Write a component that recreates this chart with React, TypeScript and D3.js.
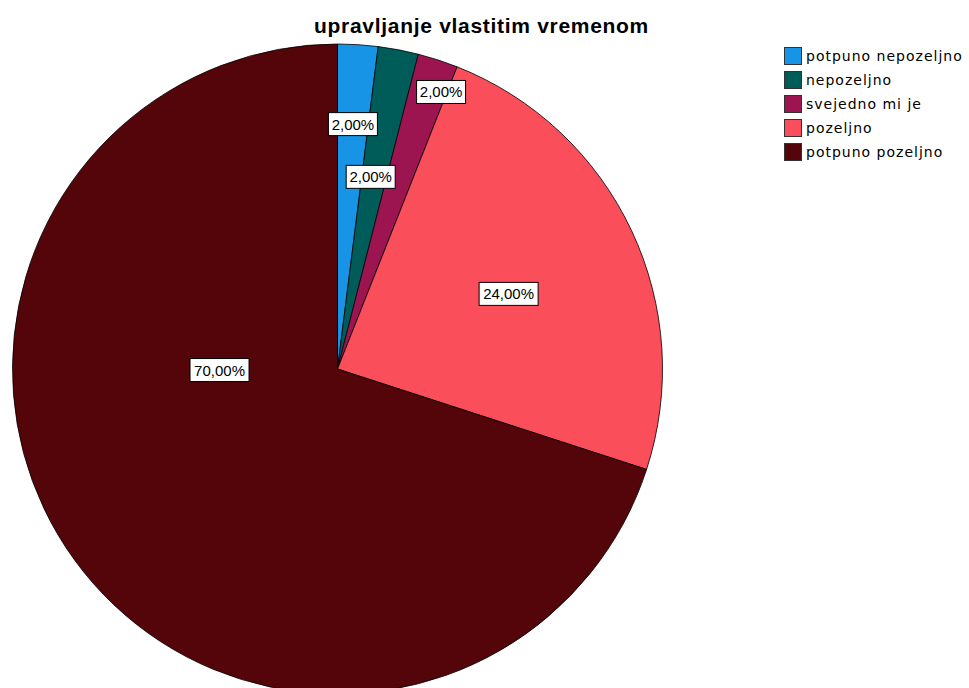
import React from "react";
import * as d3 from "d3";

const categories = ["potpuno nepozeljno", "nepozeljno", "svejedno mi je", "pozeljno", "potpuno pozeljno"];
const values = [2, 2, 2, 24, 70];
const colors = ["#1794e6", "#005c58", "#9c1551", "#fa4e5a", "#540509"];
const title = "upravljanje vlastitim vremenom";
// label placement: [angle shift (deg), radius fraction]
const labelAngleShift = [0, -1, 2.5, 1.5, 35.5];
const labelRadiusFrac = [0.755, 0.6, 0.91, 0.575, 0.363];

const W = 969, H = 688;
const cx = 337.5, cy = 369, R = 325;

export default function App() {
  const pie = d3.pie<number>().sort(null).value((d) => d)(values);
  const arc = d3.arc<d3.PieArcDatum<number>>().innerRadius(0).outerRadius(R);
  const fmt = (v: number) => v.toFixed(2).replace(".", ",") + "%";
  const total = d3.sum(values);
  return (
    <svg width={W} height={H} style={{ position: "absolute", left: 0, top: 0, background: "#fff" }}
      fontFamily="'Liberation Sans', Arial, sans-serif">
      <text x={481.5} y={33} textAnchor="middle" fontSize={21} fontWeight="bold" letterSpacing={0.7} fill="#000">{title}</text>
      <g transform={`translate(${cx},${cy})`}>
        {pie.map((p, i) => (
          <path key={i} d={arc(p) || ""} fill={colors[i]} stroke="#000" strokeWidth={1} strokeOpacity={0.8} />
        ))}
        {pie.map((p, i) => {
          const a = (p.startAngle + p.endAngle) / 2 + (labelAngleShift[i] * Math.PI) / 180;
          const r = R * labelRadiusFrac[i];
          const x = r * Math.sin(a);
          const y = -r * Math.cos(a);
          const label = fmt((values[i] / total) * 100);
          const w = label.length === 5 ? 49 : 59;
          return (
            <g key={"l" + i} transform={`translate(${x},${y})`}>
              <rect x={-w / 2} y={-11.5} width={w} height={23} fill="#fff" stroke="#000" strokeWidth={1} />
              <text x={0} y={5.5} textAnchor="middle" fontSize={15} fill="#000">{label}</text>
            </g>
          );
        })}
      </g>
      <g transform="translate(784,47)">
        {categories.map((c, i) => (
          <g key={c} transform={`translate(0,${i * 24})`}>
            <rect x={0.5} y={0.5} width={17} height={17} fill={colors[i]} stroke="#333" strokeWidth={1} />
            <text x={22} y={14} fill="#000" letterSpacing={1}
              fontFamily="'DejaVu Sans', sans-serif" style={{ fontSize: 14 }}>{c}</text>
          </g>
        ))}
      </g>
    </svg>
  );
}
